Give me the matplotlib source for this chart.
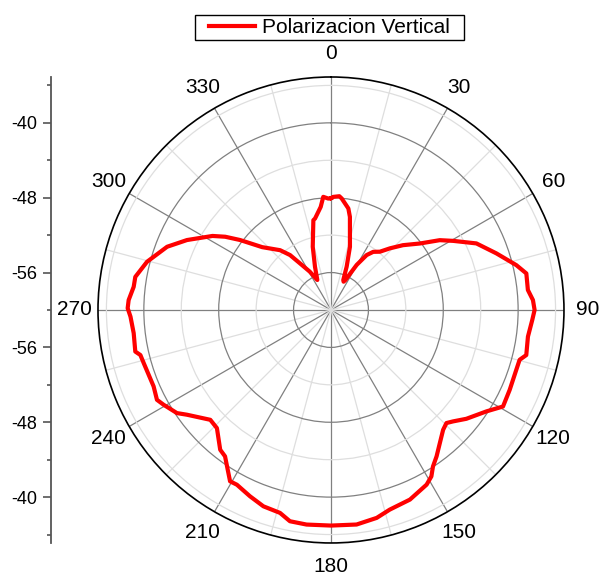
import matplotlib
matplotlib.use("Agg")
import matplotlib.pyplot as plt
import numpy as np
from matplotlib.ticker import FixedLocator
from matplotlib.patches import Rectangle

plt.rcParams['font.family'] = ['Liberation Sans', 'DejaVu Sans']

# angle (deg, clockwise from top) and level (dB)
theta_deg = [0, 1.2, 4.2, 5.5, 9.7, 11.5, 11.9, 16.7, 19.9, 22.3,
             24, 25.5, 29.7, 33, 36, 40, 43.7, 48, 53.2, 57.3,
             60.5, 65.4, 71.1, 76.4, 79.4, 84.2, 87.2, 90, 92.8, 97.7,
             103, 104.8, 108, 114.1, 119.3, 123.1, 128.8, 132.4, 134.4, 136.9,
             140.7, 144.2, 146.9, 148.9, 151.3, 157.4, 163.6, 167.6, 173.2, 180,
             186.5, 191, 194.1, 199, 203.5, 208.3, 210.5, 212.2, 215.9, 218.4,
             224, 227.7, 234, 236.2, 240.5, 242.7, 246.7, 254.1, 256.7, 258,
             263.3, 268.1, 270.5, 272.8, 276.7, 279.6, 284.7, 291.1, 295.9, 302,
             304.7, 307.6, 312.4, 319.6, 323.3, 326.4, 331, 335.5, 339.7, 343.9,
             348.9, 350.1, 354.3, 356.1, 358.6, 360]
gain_db = [-48.05, -47.91, -47.81, -48.03, -48.99, -49.85, -50.19, -52.95, -55.08, -56.54,
           -56.69, -56.48, -54.45, -53.0, -52.32, -51.87, -50.89, -49.65, -48.14, -46.19,
           -45.0, -42.91, -41.32, -39.62, -38.76, -38.85, -38.39, -38.24, -38.46, -38.76,
           -38.58, -39.15, -39.19, -39.08, -38.92, -40.16, -41.44, -42.34, -42.73, -42.46,
           -41.63, -40.71, -40.04, -39.23, -38.72, -38.05, -37.76, -37.25, -36.91, -36.96,
           -36.92, -37.0, -37.64, -37.81, -38.29, -38.79, -38.75, -39.42, -40.69, -40.94,
           -42.45, -42.56, -40.96, -40.19, -39.44, -39.07, -39.36, -39.2, -39.07, -38.62,
           -38.77, -38.56, -38.27, -38.35, -38.77, -38.79, -39.68, -41.23, -42.89, -45.07,
           -46.25, -47.75, -50.04, -51.61, -52.68, -54.03, -55.31, -56.48, -55.07, -52.97,
           -50.22, -50.08, -48.93, -47.88, -48.09, -48.05]

r_min, r_max = -60, -35.1
r_major = [-56, -48, -40]
r_minor = [-52, -44, -36]
ang_labels = [str(a) for a in range(0, 360, 30)]

fig = plt.figure(figsize=(6.03, 5.78), dpi=100)
ax = fig.add_axes([0.1625, 0.0606, 0.7728, 0.8062], projection='polar')
ax.set_theta_zero_location('N')
ax.set_theta_direction(-1)

ax.plot(np.deg2rad(theta_deg), gain_db, color='#ff0000', lw=3,
        label='Polarizacion Vertical', zorder=5)

ax.set_ylim(r_min, r_max)
ax.set_yticks(r_major)
ax.yaxis.set_minor_locator(FixedLocator(r_minor))
ax.set_yticklabels([])
ax.tick_params(axis='y', which='both', length=0)

ax.set_xticks(np.deg2rad(np.arange(0, 360, 30)))
ax.set_xticklabels(ang_labels, fontsize=15)
ax.xaxis.set_minor_locator(FixedLocator(np.deg2rad(np.arange(15, 360, 30))))
ax.tick_params(axis='x', which='major', direction='in', length=7, width=1, pad=10)
ax.tick_params(axis='x', which='minor', direction='in', length=4, width=1)

ax.grid(which='major', color='#808080', lw=0.9)
ax.grid(which='minor', color='#dedede', lw=0.9)
ax.spines['polar'].set_linewidth(1.2)
ax.spines['polar'].set_color('black')

# left radial scale, mirrored about the centre
ax2 = fig.add_axes([51 / 603, 0.0606, 0.001, 0.8062])
ax2.set_ylim(-(r_max - r_min), r_max - r_min)
for s in ['top', 'right', 'bottom']:
    ax2.spines[s].set_visible(False)
ax2.spines['left'].set_color('#555555')
ax2.spines['left'].set_linewidth(1.3)
ax2.set_xticks([])
offs = [r - r_min for r in r_major]
ax2.set_yticks([-o for o in offs] + offs)
ax2.set_yticklabels([str(r) for r in r_major] * 2, fontsize=13)
ax2.yaxis.set_minor_locator(FixedLocator([-24, -16, -8, 0, 8, 16, 24]))
ax2.tick_params(axis='y', which='major', length=6, width=1.2, color='#555555', pad=4)
ax2.tick_params(axis='y', which='minor', length=3, width=1.2, color='#555555')

leg = fig.legend(loc='center', bbox_to_anchor=(0.5464, 0.9524), fontsize=15,
                 frameon=False, handlelength=2.2, handletextpad=0.35, borderpad=0.0)

# frame drawn by hand: wide side padding, thin top/bottom padding like the original
fig.canvas.draw()
bb = leg.get_window_extent()
fig.add_artist(Rectangle((bb.x0 - 14, bb.y0 - 3), bb.width + 28, bb.height + 6,
                         transform=None, fill=False, edgecolor='black', lw=1.0))

plt.savefig('out.png', dpi=100)
